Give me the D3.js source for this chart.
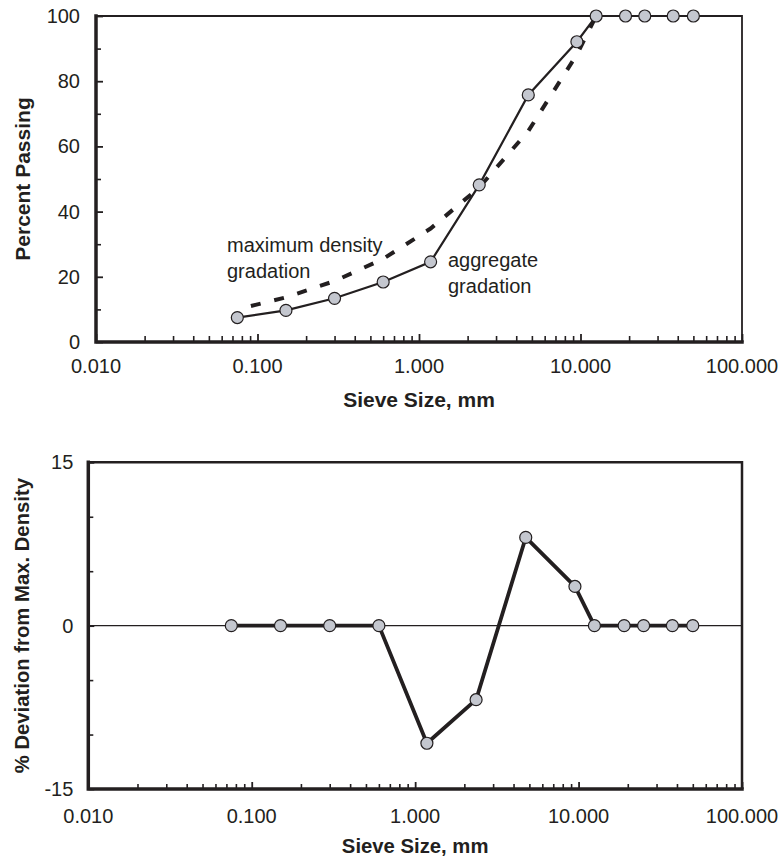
<!DOCTYPE html>
<html>
<head>
<meta charset="utf-8">
<script src="https://cdn.jsdelivr.net/npm/d3@7/dist/d3.min.js"></script>
<style>
  html, body { margin: 0; padding: 0; background: #fff; }
  svg text { font-family: "Liberation Sans", Arial, Helvetica, sans-serif; fill: #231f20; }
</style>
</head>
<body>
<svg id="chart" width="783" height="858"></svg>
<script>
// Sieve sizes (mm)
const sieveSizes = [0.075, 0.15, 0.3, 0.6, 1.18, 2.36, 4.75, 9.5, 12.5, 19, 25, 37.5, 50];
// Percent passing of the aggregate blend
const aggregatePassing = [7.5, 9.7, 13.4, 18.4, 24.6, 48.2, 75.8, 92.1, 100, 100, 100, 100, 100];
// Maximum density gradation (percent passing), up to the nominal maximum size
const maxDensitySizes = [0.075, 0.15, 0.3, 0.6, 1.18, 2.36, 4.75, 9.5, 12.5];
const maxDensityPassing = [10, 13.7, 18.7, 25.5, 34.8, 47.4, 64.7, 88.2, 100];
// Deviation of the aggregate from the maximum density line (%)
const deviation = [0, 0, 0, 0, -10.8, -6.8, 8.1, 3.6, 0, 0, 0, 0, 0];

const xTickValues = [0.01, 0.1, 1, 10, 100];
const topYTicks = [0, 20, 40, 60, 80, 100];
const topYMinor = [10, 30, 50, 70, 90];
const botYTicks = [-15, 0, 15];
const botYMinor = [-10, -5, 5, 10];

const ink = "#231f20";
const markerFill = "#c4c7cf";
const svg = d3.select("#chart");
const fmtX = d3.format(".3f");

// minor log ticks: 2..9 in each decade
const minorX = [];
[0.01, 0.1, 1, 10].forEach(dec => { for (let k = 2; k <= 9; k++) minorX.push(dec * k); });

function drawPanel(cfg) {
  const x = d3.scaleLog().domain([0.01, 100]).range([cfg.left, cfg.right]);
  const y = d3.scaleLinear().domain(cfg.yDomain).range([cfg.bottom, cfg.top]);
  const g = svg.append("g");

  // frame: top and right
  g.append("path")
    .attr("d", `M${cfg.left},${cfg.top}H${cfg.right}V${cfg.bottom}`)
    .attr("fill", "none").attr("stroke", ink).attr("stroke-width", cfg.frameWidth);

  // x axis (ticks pointing inward)
  const xAxis = g.append("g").attr("transform", `translate(0,${cfg.bottom})`);
  xAxis.call(d3.axisTop(x).tickValues(minorX).tickSize(cfg.xMinor).tickFormat(""))
    .call(a => a.select(".domain").remove())
    .selectAll("line").attr("stroke", ink).attr("stroke-width", 1.6);
  const xMaj = g.append("g").attr("transform", `translate(0,${cfg.bottom})`);
  xMaj.call(d3.axisTop(x).tickValues(xTickValues).tickSize(cfg.xMajor).tickFormat(""))
    .call(a => a.select(".domain").remove())
    .selectAll("line").attr("stroke", ink).attr("stroke-width", 1.8);
  g.selectAll(null).data(xTickValues).join("text")
    .attr("x", d => x(d)).attr("y", cfg.bottom + cfg.xLabelDy)
    .attr("text-anchor", "middle").attr("font-size", 20)
    .text(d => fmtX(d));

  // y axis (ticks pointing inward)
  const yAxis = g.append("g").attr("transform", `translate(${cfg.left},0)`);
  yAxis.call(d3.axisRight(y).tickValues(cfg.yTicks).tickSize(cfg.yMajor).tickFormat(""))
    .call(a => a.select(".domain").remove())
    .selectAll("line").attr("stroke", ink).attr("stroke-width", 1.8);
  const yMin = g.append("g").attr("transform", `translate(${cfg.left},0)`);
  yMin.call(d3.axisRight(y).tickValues(cfg.yMinorTicks).tickSize(cfg.yMinor).tickFormat(""))
    .call(a => a.select(".domain").remove())
    .selectAll("line").attr("stroke", ink).attr("stroke-width", 1.6);
  g.selectAll(null).data(cfg.yTicks).join("text")
    .attr("x", cfg.left - cfg.yLabelGap).attr("y", d => y(d))
    .attr("dy", "0.35em").attr("text-anchor", "end").attr("font-size", 20)
    .text(d => d);

  // main axis lines
  g.append("path")
    .attr("d", `M${cfg.left},${cfg.top}V${cfg.bottom}H${cfg.right}`)
    .attr("fill", "none").attr("stroke", ink).attr("stroke-width", 3.5)
    .attr("stroke-linecap", "square");

  // axis titles
  g.append("text")
    .attr("x", (cfg.left + cfg.right) / 2).attr("y", cfg.bottom + cfg.titleDy)
    .attr("text-anchor", "middle").attr("font-size", cfg.titleSize).attr("font-weight", "bold")
    .text("Sieve Size, mm");
  g.append("text")
    .attr("transform", `translate(${cfg.yTitleX},${(cfg.top + cfg.bottom) / 2}) rotate(-90)`)
    .attr("text-anchor", "middle").attr("font-size", cfg.titleSize).attr("font-weight", "bold")
    .text(cfg.yTitle);

  return { g, x, y };
}

function drawMarkers(g, xs, ys, x, y) {
  g.selectAll(null).data(xs).join("circle")
    .attr("cx", d => x(d)).attr("cy", (d, i) => y(ys[i]))
    .attr("r", 6).attr("fill", markerFill)
    .attr("stroke", ink).attr("stroke-width", 1.2);
}

// ---- Upper panel: gradation curves ----
const gradPanel = drawPanel({
  left: 96, right: 742, top: 16, bottom: 342,
  yDomain: [0, 100], yTicks: topYTicks, yMinorTicks: topYMinor,
  xMinor: 6, xMajor: 8, yMajor: 7, yMinor: 5,
  frameWidth: 1.8, xLabelDy: 31, titleDy: 65, yLabelGap: 16,
  yTitleX: 30, yTitle: "Percent Passing", titleSize: 21
});

const gradLine = d3.line().x(d => gradPanel.x(d[0])).y(d => gradPanel.y(d[1]));

gradPanel.g.append("path")
  .datum(maxDensitySizes.map((s, i) => [s, maxDensityPassing[i]]))
  .attr("d", gradLine)
  .attr("fill", "none").attr("stroke", ink).attr("stroke-width", 4)
  .attr("stroke-dasharray", "10,14").attr("stroke-dashoffset", 10);

gradPanel.g.append("path")
  .datum(sieveSizes.map((s, i) => [s, aggregatePassing[i]]))
  .attr("d", gradLine)
  .attr("fill", "none").attr("stroke", ink).attr("stroke-width", 2.2);

drawMarkers(gradPanel.g, sieveSizes, aggregatePassing, gradPanel.x, gradPanel.y);

gradPanel.g.append("text").attr("x", 227).attr("y", 252).attr("font-size", 20)
  .text("maximum density");
gradPanel.g.append("text").attr("x", 227).attr("y", 278).attr("font-size", 20)
  .text("gradation");
gradPanel.g.append("text").attr("x", 448).attr("y", 267).attr("font-size", 20)
  .text("aggregate");
gradPanel.g.append("text").attr("x", 448).attr("y", 293).attr("font-size", 20)
  .text("gradation");

// ---- Lower panel: deviation from maximum density ----
const devPanel = drawPanel({
  left: 88.3, right: 742, top: 462.3, bottom: 789,
  yDomain: [-15, 15], yTicks: botYTicks, yMinorTicks: botYMinor,
  xMinor: 5, xMajor: 7, yMajor: 6, yMinor: 5,
  frameWidth: 2.5, xLabelDy: 33.5, titleDy: 64, yLabelGap: 15,
  yTitleX: 29, yTitle: "% Deviation from Max. Density", titleSize: 20.3
});

// zero reference line
devPanel.g.append("line")
  .attr("x1", devPanel.x(0.01)).attr("x2", devPanel.x(100))
  .attr("y1", devPanel.y(0)).attr("y2", devPanel.y(0))
  .attr("stroke", ink).attr("stroke-width", 1.2);

devPanel.g.append("path")
  .datum(sieveSizes.map((s, i) => [s, deviation[i]]))
  .attr("d", d3.line().x(d => devPanel.x(d[0])).y(d => devPanel.y(d[1])))
  .attr("fill", "none").attr("stroke", ink).attr("stroke-width", 3.8)
  .attr("stroke-linejoin", "round");

drawMarkers(devPanel.g, sieveSizes, deviation, devPanel.x, devPanel.y);
</script>
</body>
</html>
